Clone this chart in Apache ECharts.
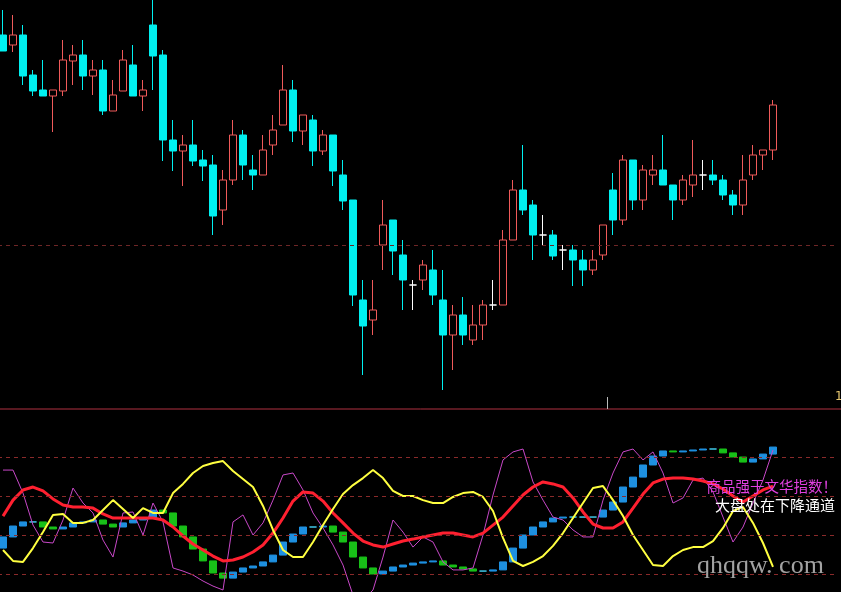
<!DOCTYPE html>
<html><head><meta charset="utf-8">
<script src="https://cdn.jsdelivr.net/npm/echarts@6/dist/echarts.min.js"></script>
<style>html,body{margin:0;padding:0;background:#000;}#c{width:841px;height:592px;}</style>
</head><body><div id="c"></div>
<script>
// ---- price pane (candles) ----
const priceOpen  = [37.3,36.3,37.3,33.3,31.8,31.2,31.7,34.7,35.3,33.2,33.8,29.7,31.7,34.3,31.2,38.3,35.3,26.8,25.7,26.3,24.8,24.3,19.8,22.8,27.3,23.8,23.3,26.3,28.3,31.8,27.7,28.8,25.7,27.3,23.3,20.8,10.8,8.8,16.3,18.8,15.3,12.3,12.8,13.8,10.8,7.3,9.3,6.8,8.3,10.3,10.3,16.8,21.8,20.3,17.3,17.3,15.8,15.8,14.8,13.8,15.3,21.8,18.8,24.8,20.8,23.3,23.8,22.3,20.8,22.3,23.3,23.3,22.8,21.3,20.3,23.3,25.3,25.8];
const priceClose = [35.7,37.3,33.2,31.7,31.2,31.8,34.8,35.3,33.2,33.8,29.7,31.3,34.8,31.2,31.8,35.2,26.8,25.7,26.3,24.7,24.2,19.2,22.8,27.3,24.3,23.3,25.8,27.8,31.8,27.7,29.3,25.7,27.3,23.7,20.7,11.3,8.2,9.8,18.3,15.7,12.8,12.3,14.3,11.3,7.3,9.3,7.3,8.3,10.3,10.3,16.8,21.8,19.8,17.3,17.3,15.2,15.8,14.8,13.8,14.8,18.3,18.8,24.8,20.8,23.8,23.8,22.3,20.8,22.8,23.3,23.3,22.8,21.3,20.3,22.8,25.3,25.8,30.3];
const priceLow   = [35.7,35.6,32.3,31.2,31.2,27.6,31.2,32.3,31.8,31.3,29.3,29.7,31.7,31.2,29.7,31.8,24.7,23.7,22.2,24.2,22.7,17.3,18.3,22.3,22.8,21.8,23.3,25.3,28.3,26.6,26.3,24.2,25.3,22.2,19.8,10.2,3.3,7.3,13.8,13.3,9.8,9.8,11.8,10.3,1.8,3.8,6.3,6.3,6.8,9.8,10.3,16.8,19.3,14.8,16.3,14.8,13.8,12.2,12.2,13.3,14.8,17.3,18.3,19.8,19.8,22.3,22.3,18.8,20.3,21.1,21.8,22.3,20.8,19.3,19.3,22.8,23.8,24.8];
const priceHigh  = [39.8,39.3,38.3,33.8,34.8,31.8,36.8,36.3,36.8,34.8,34.8,32.8,35.8,36.3,32.8,40.8,35.8,28.8,27.3,28.8,25.8,25.3,23.8,28.8,27.8,25.3,27.3,29.3,34.3,32.8,29.3,29.3,27.8,27.3,24.8,20.8,12.8,12.8,20.8,18.8,16.8,12.8,14.8,15.8,13.8,10.3,11.1,10.3,10.8,12.8,17.8,22.8,26.3,20.8,19.3,17.8,16.3,16.3,15.8,15.8,18.3,23.5,25.3,24.8,24.3,25.3,27.3,22.3,23.3,26.8,24.8,24.8,23.3,21.8,25.3,26.3,25.8,30.8];
const priceRef = 16.3;

// ---- indicator pane ----
const yellowLine = [32.3,26.7,26.2,33.3,41.5,50.3,50.8,46.2,46.2,47.7,52.8,57.9,53.3,48.7,53.8,51.3,51.3,61.5,66.2,71.8,75.4,76.9,77.9,72.8,68.7,64.6,54.9,42.6,32.3,28.7,28.7,36.4,45.1,53.3,61,65.6,69.2,73.3,69.2,62.6,60,60,57.9,56.4,56.4,59.5,61.5,62.1,59.5,52.3,38.5,26.7,24.1,26.2,29.2,34.4,41,48.7,56.4,64.1,65.1,57.9,49.7,40,32.3,24.6,24.1,29.2,32.3,33.8,33.8,36.9,43.6,52.3,54.4,46.2,35.9,23.6];
const redLine = [49.7,57.9,63.1,64.6,62.6,58.5,55.4,54.4,54.4,53.8,50.8,48.7,48.7,48.7,48.7,48.7,47.7,44.1,39.5,35.4,32.3,29.2,26.7,27.2,28.7,31.3,34.9,41,48.7,57.4,62.1,61.5,57.4,51.3,46.2,41,36.9,34.9,33.8,35.4,36.9,37.9,39,40,41,41,40,39,41,45.1,49.2,54.9,60.5,64.6,67.2,66.2,64.6,59,51.8,45.6,43.6,43.6,46.7,53.8,61,66.7,68.7,69.2,69.2,68.7,67.7,66.2,63.6,60,56.9,60,63.1,65.1];
const magentaLine = [73.3,73.3,61.5,45.1,36.4,35.9,47.7,64.1,56.4,51.3,37.4,28.7,51.3,51.8,40,56.4,46.7,23.1,21.5,19.5,16.4,13.8,11.8,46.7,50.3,40,46.2,57.9,70.8,71.8,63.1,51.3,43.6,34.9,24.6,9.2,6.7,11.8,28.7,47.7,41.5,33.8,39,36.4,26.2,22.1,22.1,23.1,40,60.5,78.5,82.6,84.1,67.2,57.9,49.2,47.7,42.6,39,39,57.9,71.8,82.6,84.1,78.5,82.6,71.8,56.4,59,68.2,69.2,62.1,49.2,36.4,44.1,56.4,68.2,83.6];
const stepStart = 33.3;
const stepLevel = [39,44.6,46.7,46.7,44.1,43.1,44.1,46.2,46.7,47.7,45.6,44.1,46.2,47.7,48.7,52.8,51.3,44.6,39,32.8,26.7,20.5,17.9,21,23.1,24.1,26.2,29.7,36.4,40.5,44.1,44.1,44.6,41.5,36.4,28.7,23.1,20,21.5,23.6,24.6,25.6,26.2,26.7,24.6,23.6,22.6,21.5,21.5,22.1,26.2,33.3,40,44.1,46.7,48.7,49.2,49.2,49.2,49.2,52.8,56.9,64.6,69.7,75.9,80.5,83.1,82.6,83.1,83.6,84.1,84.1,82.1,80,77.4,79,81.5,85.1];
const guideLevels = [20,40,60,80];

const nSlots = 84;
const days = Array.from({length: nSlots}, (_, i) => 'D' + (i + 1));

const candleData = priceOpen.map((o, i) => [o, priceClose[i], priceLow[i], priceHigh[i]]);
const stepData = stepLevel.map((v, i) => {
  const prev = i === 0 ? stepStart : stepLevel[i - 1];
  return [prev, v, Math.min(prev, v), Math.max(prev, v)];
});

const chart = echarts.init(document.getElementById('c'), null, {renderer: 'canvas'});
const hiddenCat = (gi) => ({type: 'category', gridIndex: gi, data: days, boundaryGap: true, show: false});
chart.setOption({
  backgroundColor: '#000000',
  animation: false,
  grid: [
    {left: -2, width: 840, top: 0, height: 408, outerBoundsMode: 'none', containLabel: false},
    {left: -2, width: 840, top: 418, bottom: 0, outerBoundsMode: 'none', containLabel: false}
  ],
  xAxis: [hiddenCat(0), hiddenCat(1)],
  yAxis: [
    {type: 'value', gridIndex: 0, min: 0, max: 40.8, show: false, splitLine: {show: false}},
    {type: 'value', gridIndex: 1, min: 10.77, max: 100, show: false, splitLine: {show: false}}
  ],
  series: [
    {
      type: 'candlestick', xAxisIndex: 0, yAxisIndex: 0, barWidth: 8,
      data: candleData,
      itemStyle: {
        color: '#000000', borderColor: '#f05a5a',
        color0: '#00f0f0', borderColor0: '#00f0f0',
        borderColorDoji: '#ffffff', borderWidth: 1
      },
      markLine: {
        silent: true, symbol: 'none', label: {show: false},
        lineStyle: {color: '#6e2626', type: [4, 4], width: 1},
        data: [{yAxis: priceRef}]
      }
    },
    {
      type: 'candlestick', xAxisIndex: 1, yAxisIndex: 1, barWidth: 8, clip: false,
      data: stepData,
      itemStyle: {
        color: '#1e90e0', borderColor: '#1e90e0',
        color0: '#18c018', borderColor0: '#18c018',
        borderColorDoji: '#40c8e8', borderWidth: 1
      },
      markLine: {
        silent: true, symbol: 'none', label: {show: false},
        lineStyle: {color: '#8a2a2a', type: [4, 4], width: 1},
        data: guideLevels.map(v => ({yAxis: v}))
      }
    },
    {type: 'line', xAxisIndex: 1, yAxisIndex: 1, data: magentaLine, symbol: 'none', clip: false,
     lineStyle: {color: '#c848c8', width: 1}},
    {type: 'line', xAxisIndex: 1, yAxisIndex: 1, data: redLine, symbol: 'none', clip: false,
     lineStyle: {color: '#ff2030', width: 3}},
    {type: 'line', xAxisIndex: 1, yAxisIndex: 1, data: yellowLine, symbol: 'none', clip: false,
     lineStyle: {color: '#ffff40', width: 2}}
  ],
  graphic: [
    {type: 'line', z: 50, shape: {x1: 0, y1: 409, x2: 841, y2: 409}, style: {stroke: '#b03040', lineWidth: 1}},
    {type: 'line', z: 50, shape: {x1: 607.5, y1: 397, x2: 607.5, y2: 409}, style: {stroke: '#bbbbbb', lineWidth: 1}},
    {type: 'text', z: 50, left: 835, top: 391, style: {text: '1', fill: '#e8c870', font: '12px "DejaVu Sans"'}},
    {type: 'text', z: 60, right: 4, top: 479, style: {text: '商品强于文华指数！', fill: '#e040e0', font: '14.5px "Noto Sans CJK SC"'}},
    {type: 'text', z: 60, right: 6, top: 498, style: {text: '大盘处在下降通道', fill: '#ffffff', font: '15px "Noto Sans CJK SC"'}},
    {type: 'text', z: 60, left: 697, top: 553, style: {text: 'qhqqw. com', fill: 'rgba(190,190,190,0.85)', font: '26px "Liberation Serif"'}}
  ]
});
</script>
</body></html>
